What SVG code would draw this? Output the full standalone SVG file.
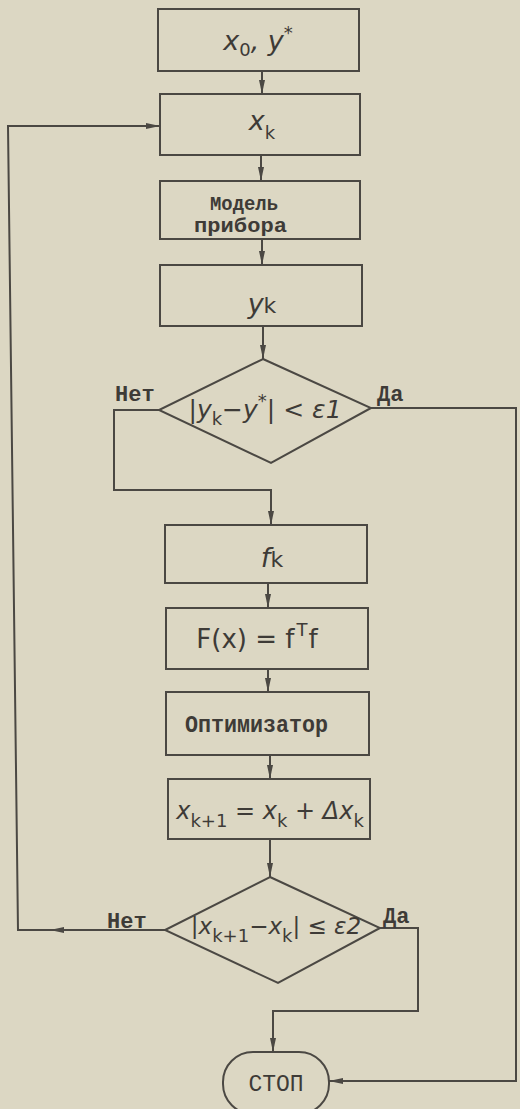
<svg xmlns="http://www.w3.org/2000/svg" width="520" height="1109" viewBox="0 0 520 1109">
<defs>
<style>
.bg{fill:#dcd7c3}
.nd{fill:none;stroke:#4b4843;stroke-width:2}
.ln{fill:none;stroke:#4b4843;stroke-width:2}
.m{font-family:"DejaVu Sans","Noto Sans",sans-serif;font-style:italic;fill:#3e3b37;font-size:27px}
.t{font-family:"Liberation Mono","DejaVu Sans Mono",monospace;font-weight:bold;fill:#3e3b37;font-size:24px}
.lb{font-family:"Liberation Mono","DejaVu Sans Mono",monospace;font-weight:bold;fill:#3e3b37;font-size:22px}
.s{font-size:18px;font-style:normal}
</style>
<marker id="ar" viewBox="0 0 14 6" refX="14" refY="3" markerWidth="14" markerHeight="6" markerUnits="userSpaceOnUse" orient="auto">
<path d="M0,0 L14,3 L0,6 Z" fill="#4b4843"/>
</marker>
</defs>
<rect class="bg" x="0" y="0" width="520" height="1109"/>
<g id="connectors">
<path class="ln" d="M262,71 V94" marker-end="url(#ar)"/>
<path class="ln" d="M261,155 V181" marker-end="url(#ar)"/>
<path class="ln" d="M262,239 V265" marker-end="url(#ar)"/>
<path class="ln" d="M263,326 V359" marker-end="url(#ar)"/>
<path class="ln" d="M159,410 H114 V490 H271 V525" marker-end="url(#ar)"/>
<path class="ln" d="M371,408 H516 V1081 H329" marker-end="url(#ar)"/>
<path class="ln" d="M268,583 V608" marker-end="url(#ar)"/>
<path class="ln" d="M268,669 V692" marker-end="url(#ar)"/>
<path class="ln" d="M270,755 V779" marker-end="url(#ar)"/>
<path class="ln" d="M270,839 V877" marker-end="url(#ar)"/>
<path class="ln" d="M165,930 H50" marker-end="url(#ar)"/>
<path class="ln" d="M52,930 H18 L8,126 H160" marker-end="url(#ar)"/>
<path class="ln" d="M380,928 H418 V1011 H273 V1052" marker-end="url(#ar)"/>
</g>
<g id="n1">
<rect class="nd" x="158" y="9" width="201" height="62"/>
<text class="m" x="258" y="50" text-anchor="middle">x<tspan class="s" dy="6">0</tspan><tspan dy="-6">, y</tspan><tspan class="s" dy="-11">*</tspan></text>
</g>
<g id="n2">
<rect class="nd" x="160" y="94" width="200" height="61"/>
<text class="m" x="262" y="130" text-anchor="middle">x<tspan class="s" dy="9">k</tspan></text>
</g>
<g id="n3">
<rect class="nd" x="160" y="181" width="200" height="58"/>
<text class="t" x="210" y="210" textLength="68" lengthAdjust="spacingAndGlyphs" style="font-size:21px">Модель</text>
<text class="t" x="194" y="232" textLength="93" lengthAdjust="spacingAndGlyphs" style="font-size:21px">прибора</text>
</g>
<g id="n4">
<rect class="nd" x="160" y="265" width="202" height="61"/>
<text class="m" x="262" y="313" text-anchor="middle">y<tspan style="font-size:22px;font-style:normal">k</tspan></text>
</g>
<g id="d1">
<polygon class="nd" points="263,359 371,408 271,463 159,410"/>
<text class="m" x="265" y="418" text-anchor="middle" style="font-size:25px">|y<tspan class="s" dy="7">k</tspan><tspan dy="-7">−y</tspan><tspan class="s" dy="-11">*</tspan><tspan dy="11">| &lt; ε1</tspan></text>
<text class="lb" x="115" y="401">Нет</text>
<text class="lb" x="377" y="401">Да</text>
</g>
<g id="n5">
<rect class="nd" x="165" y="525" width="202" height="58"/>
<text class="m" x="272" y="567" text-anchor="middle">f<tspan style="font-size:22px;font-style:normal">k</tspan></text>
</g>
<g id="n6">
<rect class="nd" x="166" y="608" width="202" height="61"/>
<text class="m" x="257" y="648" text-anchor="middle" style="font-style:normal;font-size:26px">F(x) = f<tspan class="s" dy="-12" dx="2">T</tspan><tspan dy="12" dx="1">f</tspan></text>
</g>
<g id="n7">
<rect class="nd" x="166" y="692" width="203" height="63"/>
<text class="t" x="185" y="732" textLength="143" lengthAdjust="spacingAndGlyphs">Оптимизатор</text>
</g>
<g id="n8">
<rect class="nd" x="168" y="779" width="202" height="60"/>
<text class="m" x="270" y="819" text-anchor="middle" style="font-size:24px">x<tspan class="s" dy="8">k+1</tspan><tspan dy="-8"> = x</tspan><tspan class="s" dy="8">k</tspan><tspan dy="-8"> + Δx</tspan><tspan class="s" dy="8">k</tspan></text>
</g>
<g id="d2">
<polygon class="nd" points="270,877 380,928 278,983 165,930"/>
<text class="m" x="276" y="934" text-anchor="middle" style="font-size:23px">|x<tspan class="s" dy="8">k+1</tspan><tspan dy="-8">−x</tspan><tspan class="s" dy="8">k</tspan><tspan dy="-8">| ≤ ε2</tspan></text>
<text class="lb" x="107" y="928">Нет</text>
<text class="lb" x="383" y="923">Да</text>
</g>
<g id="stop">
<rect class="nd" x="223" y="1052" width="106" height="62" rx="30" ry="30"/>
<text class="t" x="276" y="1091" text-anchor="middle" style="font-weight:normal;font-size:23px">СТОП</text>
</g>
</svg>
